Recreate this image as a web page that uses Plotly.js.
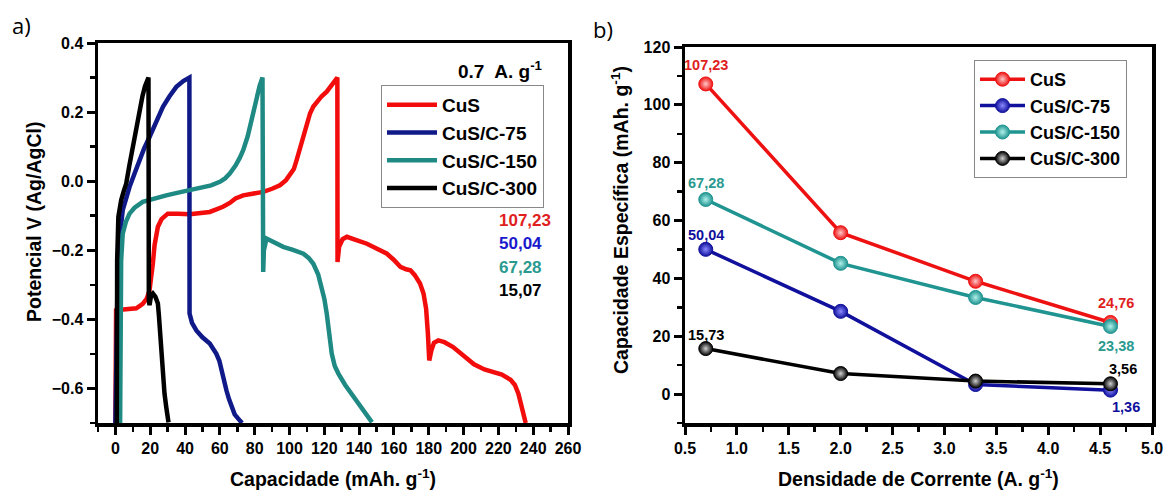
<!DOCTYPE html>
<html>
<head>
<meta charset="utf-8">
<script src="https://cdn.plot.ly/plotly-3.0.1.min.js"></script>
<style>
  html, body { margin: 0; padding: 0; background: #ffffff; }
  #chart { width: 1165px; height: 492px; }
</style>
</head>
<body>
<div id="chart"></div>
<script>
// ---- (a) galvanostatic charge/discharge at 0.7 A/g ----
const cusCap  = [0, 0.4, 3, 8, 12, 15.7, 18, 19.6, 20.7, 21.5, 22.5, 24.4, 26.5, 30.1, 36, 42.7, 54.2, 58, 61.8, 65.7, 69, 73.4, 79, 84.9, 90, 94.5, 98, 100.3, 102.5, 104.1, 106, 108, 110, 111.8, 113.7, 115.7, 118.5, 121.4, 124.5, 127.5,
                 127.6, 128.5, 130.5, 133, 138, 144.5, 150, 156, 160, 163.7, 167, 169.5, 172, 175, 177, 178.5, 179.5, 180.3, 181.5, 183, 185.5, 189, 194, 200, 206, 212, 217, 222, 227, 229.5, 231.5, 233.5, 235.7];
const cusV    = [-0.7, -0.374, -0.372, -0.371, -0.368, -0.355, -0.34, -0.316, -0.28, -0.239, -0.185, -0.132, -0.11, -0.094, -0.094, -0.096, -0.089, -0.083, -0.074, -0.063, -0.05, -0.041, -0.035, -0.031, -0.022, -0.012, 0.003, 0.017, 0.035, 0.061, 0.094, 0.128, 0.163, 0.196, 0.216, 0.23, 0.246, 0.259, 0.278, 0.30,
                 -0.234, -0.19, -0.168, -0.161, -0.17, -0.181, -0.195, -0.21, -0.228, -0.248, -0.255, -0.258, -0.272, -0.296, -0.325, -0.37, -0.44, -0.519, -0.49, -0.468, -0.461, -0.466, -0.48, -0.505, -0.53, -0.545, -0.552, -0.56, -0.575, -0.59, -0.615, -0.655, -0.7];

const c75Cap  = [0, 0.5, 1.2, 1.8, 2.7, 4.2, 6, 8.1, 11, 13.8, 16.5, 19.6, 23.5, 27.3, 31, 35, 39, 42.5,
                 42.6, 44, 46.5, 50, 54.2, 58, 59.7, 60.9, 62.3, 63.8, 65.2, 66.7, 68.5, 71.5, 72.8];
const c75V    = [-0.7, -0.45, -0.3, -0.229, -0.152, -0.084, -0.05, -0.017, 0.022, 0.061, 0.095, 0.128, 0.172, 0.215, 0.245, 0.273, 0.29, 0.30,
                 -0.383, -0.41, -0.432, -0.452, -0.47, -0.5, -0.52, -0.548, -0.577, -0.606, -0.63, -0.654, -0.675, -0.693, -0.7];

const c150Cap = [2.7, 2.8, 3.3, 4.2, 6, 8.1, 11, 15.7, 22, 29.2, 38, 48.4, 55, 60, 63, 65.7, 69, 71.5, 73.4, 76, 78.2, 80, 81.1, 82.8, 84.5,
                 84.9, 85.3, 86.8, 91, 96.4, 102, 108, 111, 113.7, 116.5, 118.6, 120, 121.4, 122.8, 124.3, 126, 128.1, 132, 136.8, 142, 147.4];
const c150V   = [-0.7, -0.4, -0.229, -0.152, -0.118, -0.094, -0.077, -0.06, -0.05, -0.041, -0.031, -0.021, -0.012, -0.002, 0.008, 0.022, 0.045, 0.068, 0.09, 0.13, 0.177, 0.215, 0.244, 0.275, 0.30,
                 -0.263, -0.2, -0.166, -0.178, -0.19, -0.199, -0.21, -0.222, -0.239, -0.27, -0.306, -0.34, -0.383, -0.44, -0.5, -0.535, -0.557, -0.59, -0.625, -0.66, -0.698];

const c300Cap = [0.8, 0.8, 1.0, 1.7, 2.5, 3.3, 4.7, 6.2, 8, 10, 12, 13.8, 15.5, 17, 19.0,
                 19.2, 19.6, 20.5, 21.5, 23, 24.4, 25, 25.7, 26.5, 27.3, 28.2, 29.2, 30.5];
const c300V   = [-0.7, -0.35, -0.229, -0.103, -0.075, -0.055, -0.03, -0.007, 0.045, 0.1, 0.155, 0.206, 0.245, 0.275, 0.30,
                 -0.345, -0.359, -0.33, -0.325, -0.335, -0.354, -0.39, -0.441, -0.5, -0.567, -0.615, -0.654, -0.698];

const capLabels = ['107,23', '50,04', '67,28', '15,07'];

// ---- (b) specific capacity vs current density ----
const densidade = [0.7, 2.0, 3.3, 4.6];
const capCuS    = [107.23, 55.8, 39.0, 24.76];
const capC75    = [50.04, 28.6, 3.3, 1.36];
const capC150   = [67.28, 45.2, 33.4, 23.38];
const capC300   = [15.73, 7.1, 4.5, 3.56];

const names = ['CuS', 'CuS/C-75', 'CuS/C-150', 'CuS/C-300'];

const colA = ['#f20c0c', '#0f1a88', '#1f8a84', '#000000'];
const colB = ['#ee1111', '#10109c', '#1f9490', '#000000'];
const colBlight = ['#ffc8c8', '#8a8aff', '#b0f0ea', '#d0d0d0'];
const colLabel = ['#e01e1e', '#1a1acc', '#2a9a90', '#000000'];

const FONT = '"Liberation Sans", Arial, sans-serif';

const seriesA = [[cusCap, cusV], [c75Cap, c75V], [c150Cap, c150V], [c300Cap, c300V]];
const traces = seriesA.map((s, i) => ({
  type: 'scatter', mode: 'lines', x: s[0], y: s[1], name: names[i],
  xaxis: 'x', yaxis: 'y', legend: 'legend',
  line: { color: colA[i], width: 4.5 }
}));

const seriesB = [capCuS, capC75, capC150, capC300];
seriesB.forEach((vals, i) => {
  traces.push({
    type: 'scatter', mode: 'lines+markers', x: densidade, y: vals, name: names[i],
    xaxis: 'x2', yaxis: 'y2', legend: 'legend2',
    line: { color: colB[i], width: 3.5 },
    marker: { size: 14, color: colB[i], line: { color: colB[i], width: 1 },
              gradient: { type: 'radial', color: colBlight[i] } }
  });
});

const axisBase = {
  showline: true, linecolor: '#000', linewidth: 3.5, mirror: true,
  ticks: 'outside', ticklen: 8, tickwidth: 3, tickcolor: '#000',
  showgrid: false, zeroline: false,
  tickfont: { family: FONT, size: 16, color: '#000', weight: 'bold' }
};

const pxX = v => v / 1165;
const pxY = v => 1 - v / 492;

const annotations = [];
const boldTxt = (t) => '<b>' + t + '</b>';
const paperNote = (x, y, text, size, extra) => Object.assign({
  xref: 'paper', yref: 'paper', x: pxX(x), y: pxY(y), xanchor: 'center', yanchor: 'middle',
  text: text, showarrow: false, font: { family: FONT, size: size, color: '#000' }
}, extra || {});

// panel letters
annotations.push(paperNote(21, 25, 'a)', 22, { font: { family: '"Open Sans", sans-serif', size: 22, color: '#000' } }));
annotations.push(paperNote(603, 29, 'b)', 22, { font: { family: '"Open Sans", sans-serif', size: 22, color: '#000' } }));

// axis titles
annotations.push(paperNote(333, 478, boldTxt('Capacidade (mAh. g<sup>-1</sup>)'), 19.5));
annotations.push(paperNote(34, 222, boldTxt('Potencial V (Ag/AgCl)'), 19.5, { textangle: -90 }));
annotations.push(paperNote(918, 478, boldTxt('Densidade de Corrente (A. g<sup>-1</sup>)'), 19.5));
annotations.push(paperNote(620, 220, boldTxt('Capacidade Específica (mAh. g<sup>-1</sup>)'), 19.5, { textangle: -90 }));

// current density note in panel (a)
annotations.push(paperNote(545, 70, boldTxt('0.7  A. g<sup>-1</sup>'), 19, { xanchor: 'right' }));

// capacities listed in panel (a)
const capLabelY = [220, 243, 267, 290];
capLabels.forEach((t, i) => {
  annotations.push(paperNote(497, capLabelY[i], boldTxt(t), 17,
    { xanchor: 'left', font: { family: FONT, size: 17, color: colLabel[i] } }));
});

// point values in panel (b)
const fmt = v => v.toFixed(2).replace('.', ',');
const ptLabels = [
  { x: densidade[0], y: capCuS[0],  dx: 0,  dy: 19,  c: colLabel[0] },
  { x: densidade[0], y: capC150[0], dx: 0,  dy: 16,  c: colLabel[2] },
  { x: densidade[0], y: capC75[0],  dx: 0,  dy: 14,  c: '#10109c' },
  { x: densidade[0], y: capC300[0], dx: 0,  dy: 14,  c: '#000000' },
  { x: densidade[3], y: capCuS[3],  dx: 6,  dy: 19,  c: colLabel[0] },
  { x: densidade[3], y: capC150[3], dx: 6,  dy: -20, c: colLabel[2] },
  { x: densidade[3], y: capC300[3], dx: 13, dy: 15,  c: '#000000' },
  { x: densidade[3], y: capC75[3],  dx: 16, dy: -17, c: '#10109c' }
];
ptLabels.forEach(p => {
  annotations.push({ xref: 'x2', yref: 'y2', x: p.x, y: p.y, xshift: p.dx, yshift: p.dy,
    xanchor: 'center', yanchor: 'middle',
    text: boldTxt(fmt(p.y)), showarrow: false, font: { family: FONT, size: 14.5, color: p.c } });
});

const layout = {
  width: 1165, height: 492,
  margin: { l: 0, r: 0, t: 0, b: 0 },
  paper_bgcolor: '#fff', plot_bgcolor: '#fff',
  showlegend: true,
  xaxis: Object.assign({}, axisBase, {
    domain: [pxX(98), pxX(568)], range: [-10, 260], anchor: 'y',
    tickmode: 'linear', tick0: 0, dtick: 20,
    minor: { ticks: 'outside', dtick: 10, ticklen: 5, tickwidth: 2.5, tickcolor: '#000' }
  }),
  yaxis: Object.assign({}, axisBase, {
    domain: [pxY(423), pxY(43)], range: [-0.7, 0.4], anchor: 'x',
    tickmode: 'linear', tick0: 0, dtick: 0.2, tickformat: '.1f',
    minor: { ticks: 'outside', dtick: 0.1, ticklen: 5, tickwidth: 2.5, tickcolor: '#000' }
  }),
  xaxis2: Object.assign({}, axisBase, {
    domain: [pxX(685), pxX(1152)], range: [0.5, 5.0], anchor: 'y2',
    tickmode: 'linear', tick0: 0.5, dtick: 0.5, tickformat: '.1f',
    minor: { ticks: 'outside', dtick: 0.25, ticklen: 5, tickwidth: 2.5, tickcolor: '#000' }
  }),
  yaxis2: Object.assign({}, axisBase, {
    domain: [pxY(423), pxY(47)], range: [-10, 120], anchor: 'x2',
    tickmode: 'linear', tick0: 0, dtick: 20,
    minor: { ticks: 'outside', dtick: 10, ticklen: 5, tickwidth: 2.5, tickcolor: '#000' }
  }),
  legend: {
    x: pxX(381), y: pxY(85), xanchor: 'left', yanchor: 'top',
    bgcolor: '#fff', bordercolor: '#888', borderwidth: 1,
    font: { family: FONT, size: 19, color: '#000', weight: 'bold' },
    itemwidth: 50, tracegroupgap: 0
  },
  legend2: {
    x: pxX(974), y: pxY(60), xanchor: 'left', yanchor: 'top',
    bgcolor: '#fff', bordercolor: '#888', borderwidth: 1,
    font: { family: FONT, size: 18, color: '#000', weight: 'bold' },
    itemwidth: 45, tracegroupgap: 0
  },
  annotations: annotations
};

Plotly.newPlot('chart', traces, layout, { displayModeBar: false, staticPlot: true });
</script>
</body>
</html>
